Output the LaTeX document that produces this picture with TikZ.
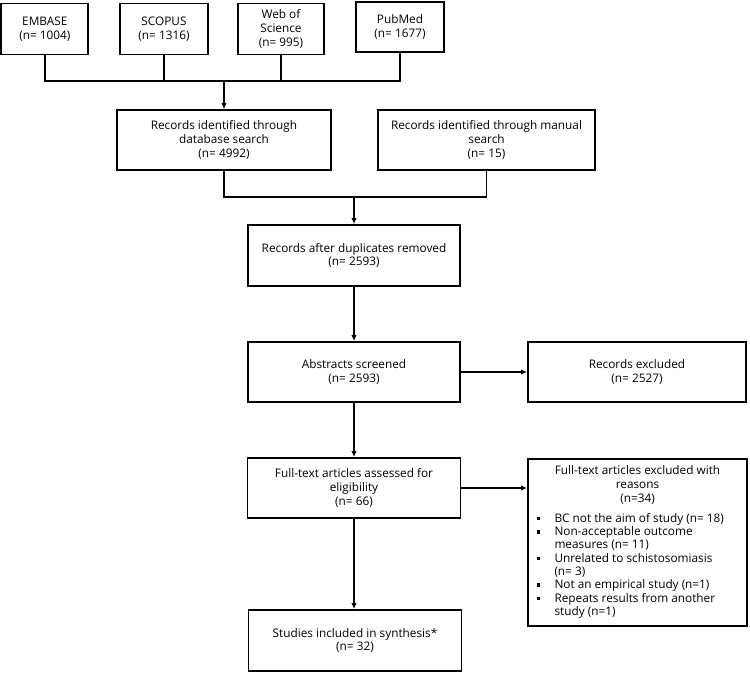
\documentclass[tikz,border=0pt]{standalone}
\usepackage{fontspec}
\setmainfont{Open Sans}
\usetikzlibrary{arrows.meta}
\newcommand{\sqbul}{\hspace*{2pt}\raisebox{2pt}{\rule{3.4pt}{3.4pt}}}
\begin{document}
\begin{tikzpicture}[x=1pt,y=-1pt,
  box/.style={draw, line width=1.9pt, align=center, inner sep=2pt,
    font=\fontsize{11.8}{13.8}\selectfont},
  conn/.style={line width=1.8pt},
  arr/.style={conn, -{Latex[length=6pt,width=5.5pt]}}]
\useasboundingbox (0,0) rectangle (750,674);
% sources
\node[box, minimum width=87pt, minimum height=51pt] (embase) at (44.8,29) {EMBASE\\(n= 1004)};
\node[box, minimum width=88pt, minimum height=51pt] (scopus) at (164,29) {SCOPUS\\(n= 1316)};
\node[box, minimum width=86pt, minimum height=51pt] (wos) at (281,29) {Web of\\Science\\(n= 995)};
\node[box, minimum width=88pt, minimum height=50pt] (pubmed) at (400,27) {PubMed\\(n= 1677)};
% identification
\node[box, minimum width=214pt, minimum height=60pt] (db) at (224,140) {Records identified through\\database search\\(n= 4992)};
\node[box, minimum width=217pt, minimum height=60pt] (manual) at (486.5,140) {Records identified through manual\\search\\(n= 15)};
% screening
\node[box, minimum width=212pt, minimum height=61pt] (dup) at (354,255.5) {Records after duplicates removed\\(n= 2593)};
\node[box, minimum width=212pt, minimum height=60pt] (abs) at (354,372) {Abstracts screened\\(n= 2593)};
\node[box, minimum width=218pt, minimum height=60pt] (excl1) at (637,372) {Records excluded\\(n= 2527)};
\node[box, minimum width=213pt, minimum height=60pt] (full) at (354,488) {Full-text articles assessed for\\eligibility\\(n= 66)};
\node[box, minimum width=219pt, minimum height=167pt] (excl2) at (637.5,542.5) {Full-text articles excluded with\\reasons\\(n=34)\\[8pt]
\makebox[205pt][l]{\fontsize{11.8}{13.3}\selectfont\begin{tabular}{@{}p{19.5pt}@{}l@{}}
\sqbul & BC not the aim of study (n= 18)\\
\sqbul & Non-acceptable outcome\\
 & measures (n= 11)\\
\sqbul & Unrelated to schistosomiasis\\
 & (n= 3)\\
\sqbul & Not an empirical study (n=1)\\
\sqbul & Repeats results from another\\
 & study (n=1)
\end{tabular}}};
\node[box, minimum width=213pt, minimum height=61pt] (studies) at (355,640.5) {Studies included in synthesis*\\(n= 32)};
% connectors
\coordinate (j1) at (224,81);
\coordinate (j2) at (354,197);
\draw[conn] (embase.south) -- (embase.south |- j1) -- (pubmed.south |- j1) -- (pubmed.south);
\draw[conn] (scopus.south) -- (scopus.south |- j1);
\draw[conn] (wos.south) -- (wos.south |- j1);
\draw[arr] (j1) -- (db.north);
\draw[conn] (db.south) -- (db.south |- j2) -- (manual.south |- j2) -- (manual.south);
\draw[arr] (j2) -- (dup.north);
\draw[arr] (dup.south) -- (abs.north);
\draw[arr] (abs.south) -- (full.north);
\draw[arr] (full.south) -- (full.south |- studies.north);
\draw[arr] (abs.east) -- (excl1.west);
\draw[arr] (full.east) -- (full.east -| excl2.west);
\end{tikzpicture}
\end{document}
